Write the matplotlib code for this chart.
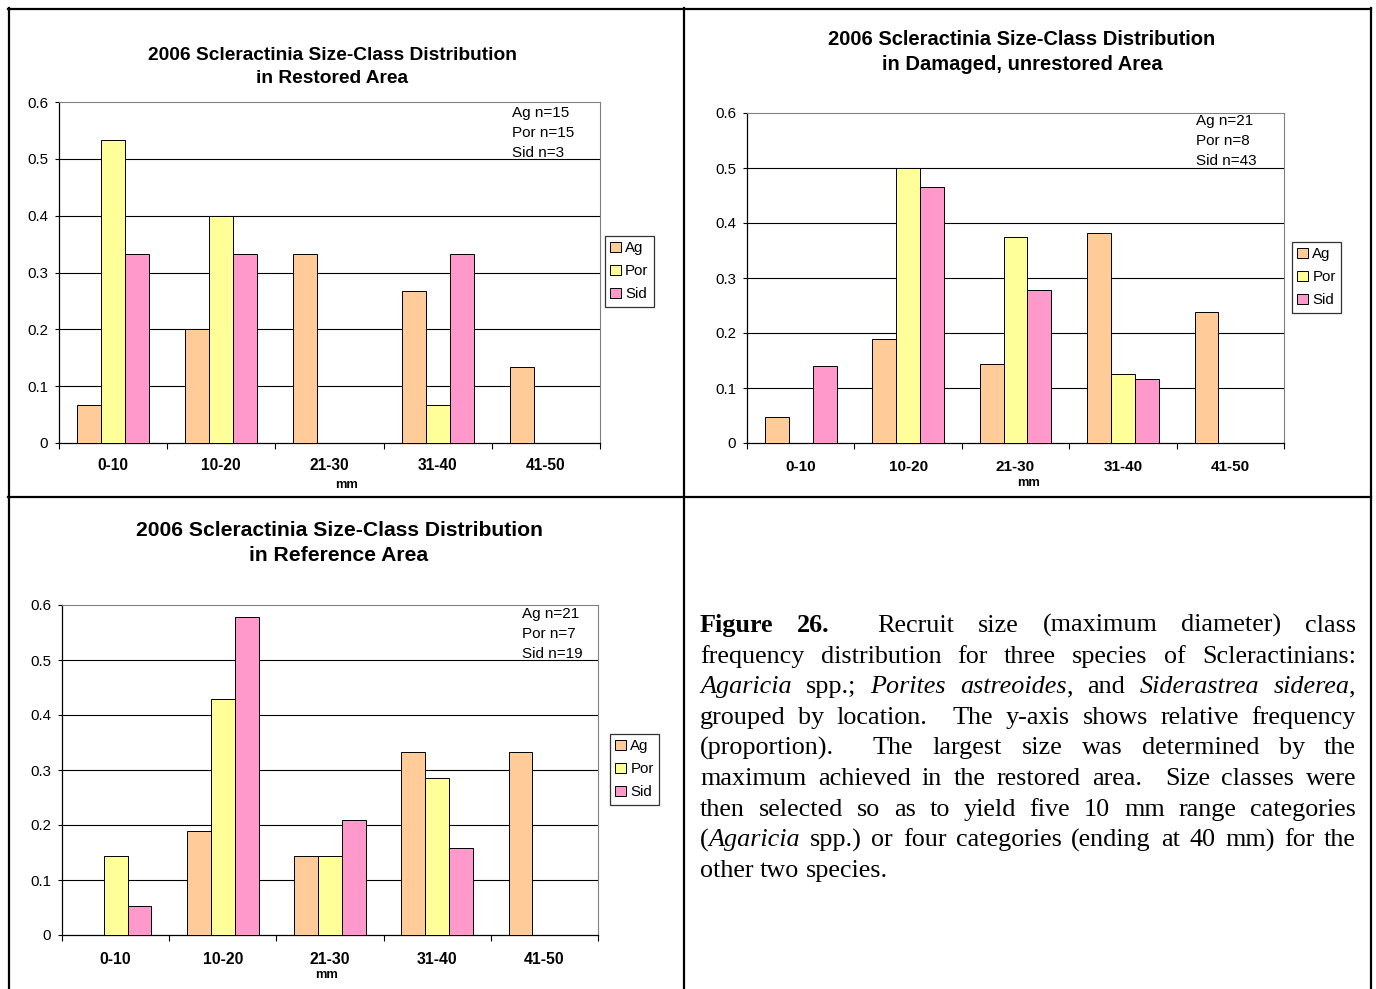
import matplotlib
matplotlib.use('Agg')
import matplotlib.pyplot as plt
from matplotlib.lines import Line2D
from matplotlib.patches import Patch
import numpy as np

plt.rcParams['font.family'] = ['Liberation Sans', 'DejaVu Sans']

categories = ['0-10', '10-20', '21-30', '31-40', '41-50']
series = ['Ag', 'Por', 'Sid']
colors = ['#FFCC99', '#FFFF99', '#FF99CC']

restored_ag = [0.067, 0.200, 0.333, 0.267, 0.133]
restored_por = [0.533, 0.400, 0.0, 0.067, 0.0]
restored_sid = [0.333, 0.333, 0.0, 0.333, 0.0]

damaged_ag = [0.048, 0.190, 0.143, 0.381, 0.238]
damaged_por = [0.0, 0.500, 0.375, 0.125, 0.0]
damaged_sid = [0.140, 0.465, 0.279, 0.116, 0.0]

reference_ag = [0.0, 0.190, 0.143, 0.333, 0.333]
reference_por = [0.143, 0.429, 0.143, 0.286, 0.0]
reference_sid = [0.053, 0.579, 0.210, 0.158, 0.0]

restored_n = ['Ag n=15', 'Por n=15', 'Sid n=3']
damaged_n = ['Ag n=21', 'Por n=8', 'Sid n=43']
reference_n = ['Ag n=21', 'Por n=7', 'Sid n=19']

titles = ['2006 Scleractinia Size-Class Distribution\nin Restored Area',
          '2006 Scleractinia Size-Class Distribution\nin Damaged, unrestored Area',
          '2006 Scleractinia Size-Class Distribution\nin Reference Area']

yticks = [0.0, 0.1, 0.2, 0.3, 0.4, 0.5, 0.6]
ytick_labels = ['0', '0.1', '0.2', '0.3', '0.4', '0.5', '0.6']
xlabel = 'mm'

W, H = 1376, 989
fig = plt.figure(figsize=(W / 100, H / 100), dpi=100)
fig.patch.set_facecolor('white')


def fx(x):
    return x / W


def fy(y):
    return 1 - y / H


# outer table borders
for (x0, y0, x1, y1) in [(8, 9, 1371, 9), (9, 8, 9, 989), (684, 8, 684, 989),
                         (1371, 8, 1371, 989), (8, 497, 1371, 497)]:
    fig.add_artist(Line2D([fx(x0), fx(x1)], [fy(y0), fy(y1)], color='black', lw=1.6))

panels = [
    dict(data=[restored_ag, restored_por, restored_sid], n=restored_n, title=titles[0],
         ax=(59, 600, 102, 443), title_xy=(332, 67), title_fs=13.8,
         ann=(512, 113), leg=(605, 236), mm=(347, 485), xpad=10.5, fs=11.2),
    dict(data=[damaged_ag, damaged_por, damaged_sid], n=damaged_n, title=titles[1],
         ax=(747, 1284, 113, 443), title_xy=(1022, 52), title_fs=14.5,
         ann=(1196, 121), leg=(1292, 242), mm=(1028, 483), xpad=12.5, fs=11.0),
    dict(data=[reference_ag, reference_por, reference_sid], n=reference_n, title=titles[2],
         ax=(62, 598, 605, 935), title_xy=(339, 543), title_fs=15.2,
         ann=(522, 614), leg=(610, 734), mm=(327, 975), xpad=12.5, fs=11.4),
]

w = 1 / 4.5
for p in panels:
    l, r, t, b = p['ax']
    ax = fig.add_axes([fx(l), fy(b), (r - l) / W, (b - t) / H])
    x = np.arange(len(categories))
    for k, (vals, c) in enumerate(zip(p['data'], colors)):
        ax.bar(x + 0.75 * w + k * w, vals, width=w, align='edge', color=c,
               edgecolor='black', linewidth=0.7, zorder=3)
    ax.set_xlim(0, len(categories))
    ax.set_ylim(0, 0.6)
    for yv in yticks[1:-1]:
        ax.axhline(yv, color='black', lw=0.8, zorder=1)
    ax.set_yticks(yticks)
    ax.set_yticklabels(ytick_labels, fontsize=10.8)
    ax.tick_params(axis='y', direction='out', length=3, width=0.8, pad=5)
    ax.set_xticks(np.arange(len(categories) + 1))
    ax.set_xticklabels([])
    ax.tick_params(axis='x', which='major', direction='out', length=4, width=0.8)
    ax.set_xticks(x + 0.5, minor=True)
    ax.set_xticklabels(categories, minor=True, fontsize=p['fs'], fontweight='bold')
    ax.tick_params(axis='x', which='minor', length=0, pad=p['xpad'])
    for s in ['top', 'right']:
        ax.spines[s].set_color('#808080')
        ax.spines[s].set_linewidth(0.8)
    for s in ['left', 'bottom']:
        ax.spines[s].set_color('black')
        ax.spines[s].set_linewidth(0.9)
    fig.text(fx(p['title_xy'][0]), fy(p['title_xy'][1]), p['title'], ha='center',
             va='center', fontsize=p['title_fs'], fontweight='bold', linespacing=1.4)
    for i, s in enumerate(p['n']):
        fig.text(fx(p['ann'][0]), fy(p['ann'][1] + i * 20), s, ha='left', va='center',
                 fontsize=11)
    fig.text(fx(p['mm'][0]), fy(p['mm'][1]), xlabel, ha='center', va='center',
             fontsize=9.3, fontweight='bold')
    handles = [Patch(facecolor=c, edgecolor='black', linewidth=0.7) for c in colors]
    leg = fig.legend(handles, series, loc='upper left',
                     bbox_to_anchor=(fx(p['leg'][0]), fy(p['leg'][1])),
                     bbox_transform=fig.transFigure, fontsize=10.8, frameon=True,
                     fancybox=False, edgecolor='black', borderpad=0.35,
                     handlelength=0.7, handleheight=0.7, handletextpad=0.3,
                     labelspacing=0.6, borderaxespad=0)
    leg.get_frame().set_linewidth(0.9)

# caption, fully justified
caption_lines = [
    [[('Figure', 'bold')], [('26.', 'bold')], [('Recruit', 'normal')], [('size', 'normal')],
     [('(maximum', 'normal')], [('diameter)', 'normal')], [('class', 'normal')]],
    [[(wd, 'normal')] for wd in 'frequency distribution for three species of Scleractinians:'.split()],
    [[('Agaricia', 'italic')], [('spp.;', 'normal')], [('Porites', 'italic')],
     [('astreoides', 'italic'), (',', 'normal')], [('and', 'normal')],
     [('Siderastrea', 'italic')], [('siderea', 'italic'), (',', 'normal')]],
    [[(wd, 'normal')] for wd in 'grouped by location.  The y-axis shows relative frequency'.split()],
    [[(wd, 'normal')] for wd in '(proportion).  The largest size was determined by the'.split()],
    [[(wd, 'normal')] for wd in 'maximum achieved in the restored area.  Size classes were'.split()],
    [[(wd, 'normal')] for wd in 'then selected so as to yield five 10 mm range categories'.split()],
    [[('(', 'normal'), ('Agaricia', 'italic')], [('spp.)', 'normal')]] +
    [[(wd, 'normal')] for wd in 'or four categories (ending at 40 mm) for the'.split()],
    [[(wd, 'normal')] for wd in 'other two species.'.split()],
]
extra_gap_after = {0: 1, 3: 2, 4: 0, 5: 5}  # sentence breaks (double space)

cap_left, cap_right = 700, 1356
cap_fs = 18.8
base0, step = 632, 30.6
renderer = fig.canvas.get_renderer()


def make(txt, style):
    kw = dict(fontsize=cap_fs, family=['Liberation Serif', 'DejaVu Serif'])
    if style == 'bold':
        kw['fontweight'] = 'bold'
    elif style == 'italic':
        kw['fontstyle'] = 'italic'
    return fig.text(0, 0, txt, ha='left', va='baseline', **kw)


sp_t = make('a a', 'normal')
aa_t = make('aa', 'normal')
space_w = (sp_t.get_window_extent(renderer).width - aa_t.get_window_extent(renderer).width)
sp_t.remove()
aa_t.remove()

for li, words in enumerate(caption_lines):
    yb = base0 + li * step
    objs = []
    widths = []
    for word in words:
        pieces = []
        tot = 0
        for txt, st in word:
            t = make(txt, st)
            wpx = t.get_window_extent(renderer).width
            pieces.append((t, wpx))
            tot += wpx
        objs.append(pieces)
        widths.append(tot)
    last = li == len(caption_lines) - 1
    if last:
        gaps = [space_w] * (len(words) - 1)
    else:
        weights = [1.0] * (len(words) - 1)
        if li in extra_gap_after:
            weights[extra_gap_after[li]] = 2.0
        g = (cap_right - cap_left - sum(widths)) / sum(weights)
        gaps = [g * wt for wt in weights]
    xpos = cap_left
    for wi, pieces in enumerate(objs):
        xx = xpos
        for t, wpx in pieces:
            t.set_position((fx(xx), fy(yb)))
            xx += wpx
        xpos += widths[wi]
        if wi < len(gaps):
            xpos += gaps[wi]

fig.savefig('out.png', dpi=100, facecolor='white')
